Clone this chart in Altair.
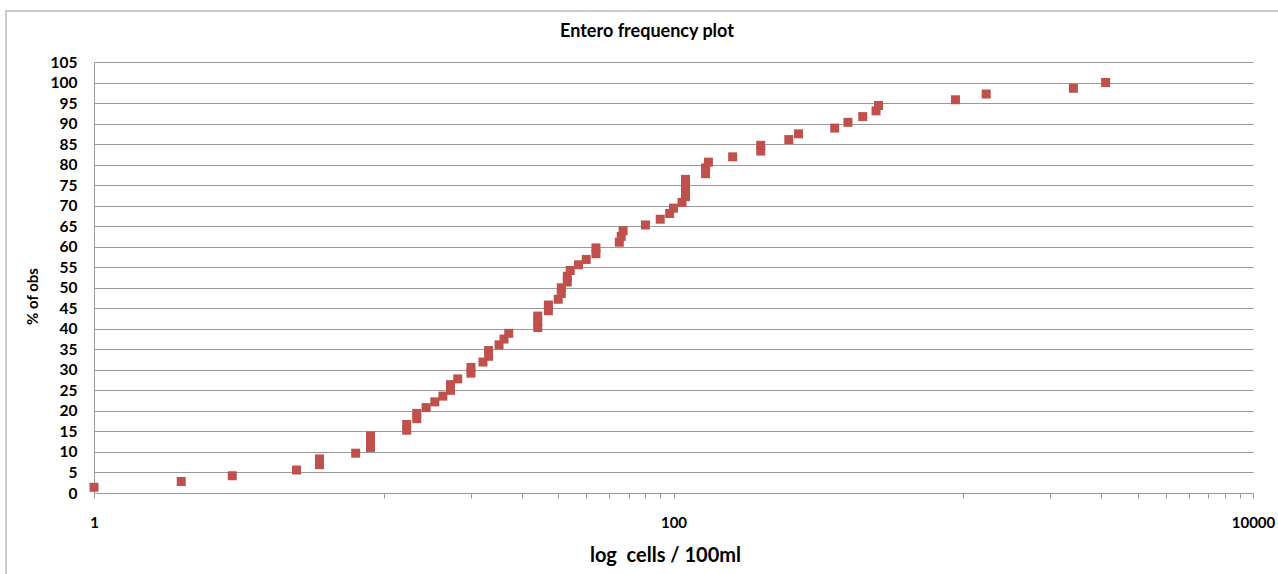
import altair as alt
import pandas as pd

# Enterococci counts (cells / 100 ml), sorted, and cumulative % of observations
cells = [
    1, 2, 3, 5, 6, 6, 8, 9, 9, 9,
    12, 12, 13, 13, 14, 15, 16, 17, 17, 18,
    20, 20, 22, 23, 23, 25, 26, 27, 34, 34,
    34, 37, 37, 40, 41, 41, 43, 43, 44, 47,
    50, 54, 54, 65, 66, 67, 80, 90, 97, 100,
    107, 110, 110, 110, 110, 129, 129, 132, 160, 200,
    200, 250, 270, 360, 400, 450, 500, 510, 940, 1200,
    2400, 3100,
]
pct_obs = [
    1.4, 2.8, 4.2, 5.6, 6.9, 8.3, 9.7, 11.1, 12.5, 13.9,
    15.3, 16.7, 18.1, 19.4, 20.8, 22.2, 23.6, 25.0, 26.4, 27.8,
    29.2, 30.6, 31.9, 33.3, 34.7, 36.1, 37.5, 38.9, 40.3, 41.7,
    43.1, 44.4, 45.8, 47.2, 48.6, 50.0, 51.4, 52.8, 54.2, 55.6,
    56.9, 58.3, 59.7, 61.1, 62.5, 63.9, 65.3, 66.7, 68.1, 69.4,
    70.8, 72.2, 73.6, 75.0, 76.4, 77.8, 79.2, 80.6, 81.9, 83.3,
    84.7, 86.1, 87.5, 88.9, 90.3, 91.7, 93.1, 94.4, 95.8, 97.2,
    98.6, 100.0,
]

# Axis ticks: labelled at 1, 100, 10000 with minor ticks in between
x_ticks = [1, 10, 20, 30, 40, 50, 60, 70, 80, 90, 100,
           1000, 2000, 3000, 4000, 5000, 6000, 7000, 8000, 9000, 10000]
y_ticks = list(range(0, 106, 5))

chart_title = "Entero frequency plot"
x_title = "log\u00a0 cells / 100ml"
y_title = "% of obs"

df = pd.DataFrame({"cells": cells, "pct": pct_obs})

FONT = "Lato"
GRID = "#9a9a9a"

points = alt.Chart(df).mark_square(size=81, color="#C0504D", opacity=1).encode(
    x=alt.X(
        "cells:Q",
        scale=alt.Scale(type="log", domain=[1, 10000], nice=False),
        axis=alt.Axis(
            values=x_ticks,
            format="d",
            labelExpr="datum.value == 1 || datum.value == 100 || datum.value == 10000 ? datum.label : ''",
            labelOverlap=False,
            labelFlush=False,
            labelFont=FONT,
            labelFontWeight="bold",
            labelFontSize=15,
            labelColor="#000000",
            labelPadding=17,
            tickSize=5,
            tickColor=GRID,
            domainColor=GRID,
            grid=False,
            title=x_title,
            titleFont=FONT,
            titleFontWeight="bold",
            titleFontSize=20,
            titleColor="#000000",
            titleX=571,
            titleY=62,
            titleAlign="center",
            titleBaseline="middle",
        ),
    ),
    y=alt.Y(
        "pct:Q",
        scale=alt.Scale(domain=[0, 105], nice=False),
        axis=alt.Axis(
            values=y_ticks,
            labelFont=FONT,
            labelFontWeight="bold",
            labelFontSize=15.5,
            labelColor="#000000",
            labelPadding=17,
            ticks=False,
            domainColor=GRID,
            grid=True,
            gridColor=GRID,
            gridWidth=1,
            title=y_title,
            titleFont=FONT,
            titleFontWeight="bold",
            titleFontSize=15,
            titleColor="#000000",
            titleX=-62,
            titleY=234,
            titleAlign="center",
            titleBaseline="middle",
        ),
    ),
)

# Outer chart-area frame
frame = alt.Chart(alt.Data(values=[{}])).mark_rect(
    fill=None, stroke="#BDBDBD", strokeWidth=1.5
).encode(
    x=alt.value(-88), x2=alt.value(1186),
    y=alt.value(-51), y2=alt.value(540),
)

# Chart heading
heading = alt.Chart(alt.Data(values=[{"t": chart_title}])).mark_text(
    font=FONT, fontSize=18, fontWeight="bold", color="#000000",
    align="center", baseline="middle",
).encode(
    text="t:N",
    x=alt.value(553),
    y=alt.value(-30),
)

chart = alt.layer(frame, points, heading).properties(
    width=1159,
    height=431,
    autosize=alt.AutoSizeParams(type="none"),
    padding={"left": 94, "top": 62, "right": 25, "bottom": 81},
    background="white",
).configure_view(stroke=None)

chart.save("out.html", embed_options={"renderer": "svg", "actions": False})
